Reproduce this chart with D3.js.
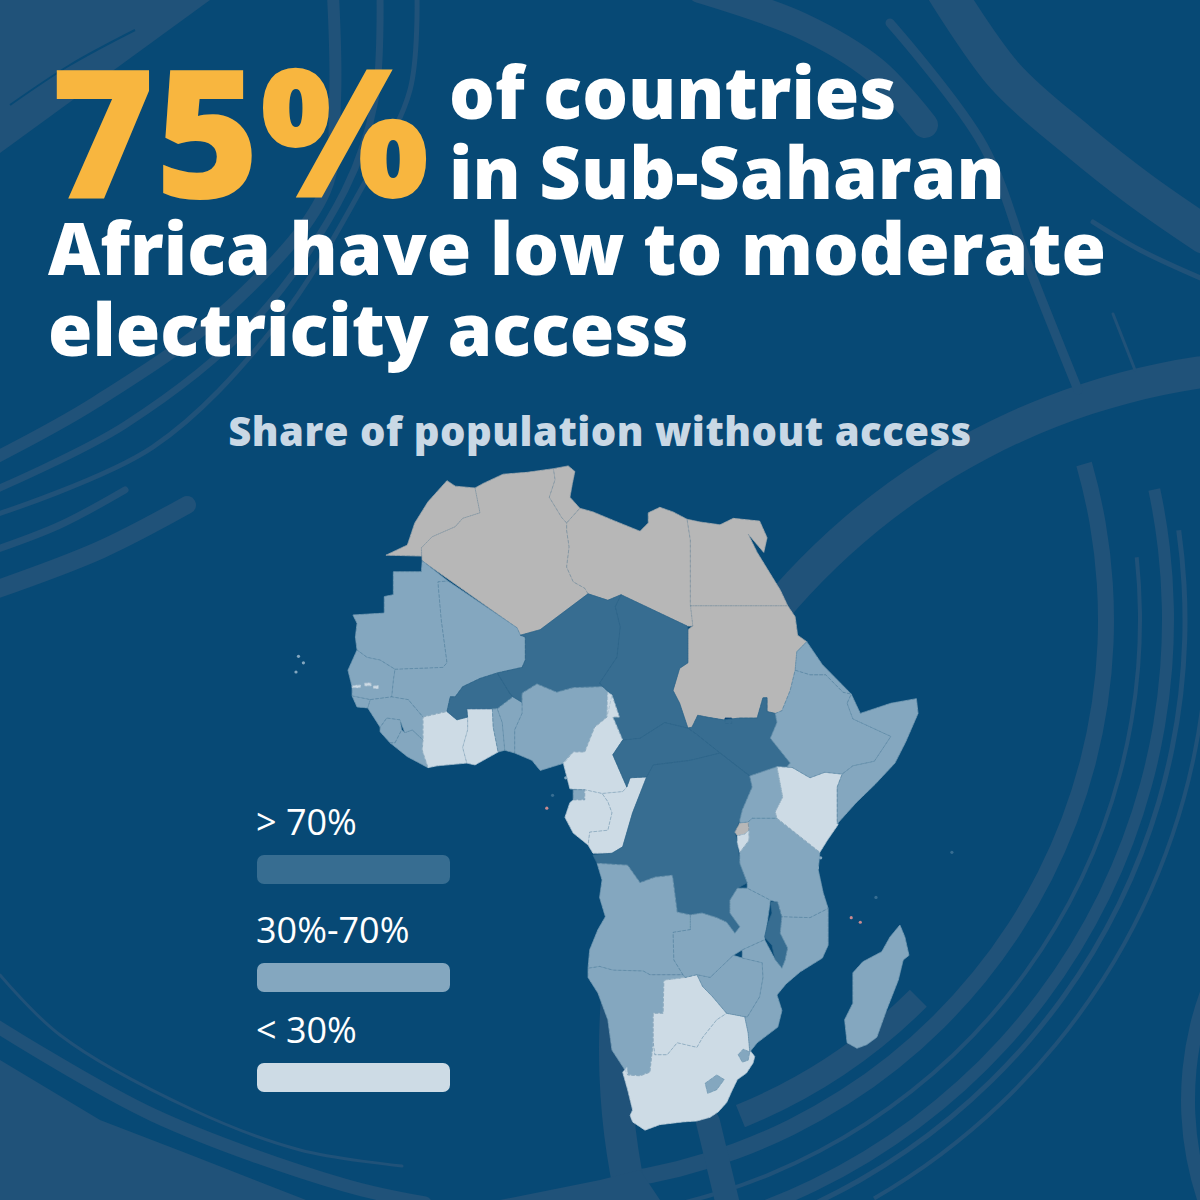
<!DOCTYPE html>
<html><head><meta charset="utf-8">
<script src="https://cdn.jsdelivr.net/npm/d3@7/dist/d3.min.js"></script>
<style>html,body{margin:0;padding:0;background:#074975}svg{display:block}text{font-family:"Open Sans",sans-serif}</style>
</head><body><svg id="c" width="1200" height="1200"></svg>
<script>
// ---------- text ----------
const headlineBig = "75%";
const headlineSide = ["of countries", "in Sub-Saharan"];
const headlineFull = ["Africa have low to moderate", "electricity access"];
const subtitle = "Share of population without access";
// ---------- legend ----------
const legendLabels = ["> 70%", "30%-70%", "< 30%"];
const legendClasses = ["high", "mid", "low"];
// ---------- colour classes ----------
const classNames = ["high", "mid", "low", "none", "gap"];
const classColors = ["#376d91", "#84a7bf", "#cddbe5", "#b7b7b7", "#0a4372"];
// ---------- countries [lon,lat] ----------
const Morocco=[[-13.1,27.7],[-10.5,28.8],[-9.6,31.2],[-8,33.5],[-5.7,35.8],[-4.7,35.2],[-2.3,35],[-1.7,32.3],[-3.8,31.7],[-4.7,30.8],[-7.5,29.7],[-8.8,28.5],[-8.8,27.6]];
const Algeria=[[-2.3,35],[-1.3,35.5],[1.1,36.5],[4,36.7],[7.2,37.1],[7.4,35.9],[6.7,34],[8.2,31.8],[8.8,31.2],[8.8,30.4],[9.1,28.6],[8.8,26.4],[9.6,24.8],[11,24.1],[11.4,23.5],[5.6,19.6],[3.2,19],[2.8,19.8],[-8.7,27.1],[-8.8,28.5],[-7.5,29.7],[-4.7,30.8],[-3.8,31.7],[-1.7,32.3]];
const Tunisia=[[7.2,37.1],[9,37.4],[9.8,36.8],[9.5,35.5],[9.2,34],[10.4,32.8],[8.8,31.2],[8.2,31.8],[6.7,34],[7.4,35.9]];
const Libya=[[10.4,32.8],[12,32.4],[14.4,31.5],[17.7,30.3],[18.7,31.2],[18.7,32.3],[20.1,32.9],[21.7,32.4],[23.4,31.6],[23.8,29.3],[23.8,22.5],[24.1,20],[23.4,20],[15.4,23.4],[13.8,22.8],[11.4,23.5],[11,24.1],[9.6,24.8],[8.8,26.4],[9.1,28.6],[8.8,30.4],[8.8,31.2]];
const Egypt=[[23.4,31.6],[25,31.3],[27.4,31],[29,31.7],[32.2,31.4],[33.1,29.6],[32.7,28],[30.8,30],[31.9,28],[34.7,23.9],[35.6,22.2],[23.8,22.2],[23.8,22.5],[23.8,29.3]];
const Sudan=[[23.8,22.2],[35.6,22.2],[36.5,21],[36.8,19],[37.9,18.3],[36.7,17.2],[36.5,15.2],[35.9,13],[34.9,10.8],[34.1,10.5],[33.1,10.7],[33.1,12.2],[32.6,12.2],[31.9,10],[29.8,10],[27.8,9.8],[25.8,10.1],[24.7,10.3],[24,9],[23.5,8.9],[22.5,11.6],[21.7,13],[22.5,15.4],[23.5,16],[23.5,19.6],[24.1,20]];
const SouthSudan=[[23.5,8.9],[24,9],[24.7,10.3],[25.8,10.1],[27.8,9.8],[29.8,10],[31.9,10],[32.6,12.2],[33.1,12.2],[33.1,10.7],[34.1,10.5],[34.3,9.5],[33.5,7.8],[35.9,5.1],[35.5,4.7],[34.3,4.7],[31,3.7],[27.4,6.2],[24.6,8.2]];
const Abyei=[[28,10],[28.8,10],[28.8,9.4],[28,9.4]];
const Mauritania=[[-8.7,27.1],[-5.6,24.9],[-6.8,24.8],[-6.4,20.7],[-5.7,16],[-6.2,15.5],[-12,15.3],[-13.8,16.3],[-15.4,16.6],[-16.6,17.4],[-16.8,18.8],[-16.6,20.3],[-17.1,21.2],[-13.3,21.4],[-13.3,23.2],[-12.2,23.4],[-12.2,25.9],[-8.8,25.9]];
const Mali=[[-5.6,24.9],[2.8,19.8],[3.2,19],[3.8,18.8],[3.8,16.3],[3.4,15.5],[0.4,14.9],[-1.7,14.3],[-3.8,13.4],[-4.7,12.3],[-5.3,12.3],[-5.7,10.7],[-8.6,10.1],[-10.4,12],[-12.4,12.3],[-12.2,14.1],[-12,15.3],[-6.2,15.5],[-5.7,16],[-6.4,20.7],[-6.8,24.8]];
const Senegal=[[-17.7,15.2],[-17.2,13.4],[-17.2,12.4],[-15,12],[-12.4,12.3],[-12.2,14.1],[-12,15.3],[-13.8,16.3],[-15.4,16.6],[-16.6,17.4]];
const GuineaBissau=[[-17.2,12.4],[-15,12],[-15.3,11.1],[-16.6,11.2]];
const Guinea=[[-15,12],[-12.4,12.3],[-10.4,12],[-8.6,10.1],[-8.6,7.6],[-9.9,8.7],[-10.8,8.4],[-11.4,9.8],[-13,10],[-13.8,9],[-15.3,11.1]];
const SierraLeone=[[-13,10],[-11.4,9.8],[-11.2,8.7],[-12,7.3],[-12.6,7.3],[-13.8,8.5],[-13.8,9]];
const Liberia=[[-12,7.3],[-11.2,8.7],[-10.8,8.4],[-9.9,8.7],[-8.6,7.6],[-8.7,6.5],[-8,4.6],[-10.5,5.8],[-12.6,7.3]];
const CoteDIvoire=[[-8.6,10.1],[-5.7,10.7],[-4.5,9.8],[-3.2,10.1],[-3.2,8.7],[-3.8,6.8],[-3.3,5.1],[-6.9,4.8],[-8,4.6],[-8.7,6.5],[-8.6,7.6]];
const Ghana=[[-3.3,11],[-0.2,11],[-0.1,9],[0.5,6.3],[-2.3,4.9],[-3.3,5.1],[-3.8,6.8],[-3.2,8.7],[-3.2,10.1]];
const BurkinaFaso=[[-5.7,10.7],[-5.3,12.3],[-4.7,12.3],[-3.8,13.4],[-1.7,14.3],[0.4,14.9],[1.9,12.7],[2.3,12.3],[0.4,11],[-0.2,11],[-3.3,11],[-3.2,10.1],[-4.5,9.8]];
const Togo=[[-0.2,11],[0.4,11],[1,9.5],[1.3,6.5],[0.5,6.3],[-0.1,9]];
const Benin=[[0.4,11],[2.3,12.3],[3.4,11.7],[3.4,10.5],[2.5,8.7],[2.5,6.2],[1.3,6.5],[1,9.5]];
const Niger=[[11.4,23.5],[13.8,22.8],[15.4,23.4],[14.7,22.1],[15.3,19.9],[14.9,16.6],[12.8,13.8],[13.2,13.4],[9.6,13.3],[7.6,12.8],[5.2,13.7],[3.4,12.7],[3.4,11.7],[2.3,12.3],[1.9,12.7],[0.4,14.9],[3.4,15.5],[3.8,16.3],[3.8,18.8],[3.2,19],[5.6,19.6]];
const Nigeria=[[3.4,12.7],[3.4,10.5],[2.5,8.7],[2.5,6.2],[4.6,5.4],[5.6,4.3],[8.5,5.1],[9.6,6.3],[11,6.3],[12.2,9],[13.7,10.1],[14.3,12.5],[13.2,13.4],[9.6,13.3],[7.6,12.8],[5.2,13.7]];
const Chad=[[15.4,23.4],[23.4,20],[23.5,19.6],[23.5,16],[22.5,15.4],[21.7,13],[22.5,11.6],[23.5,8.9],[20.7,9.5],[17.7,7.8],[15.6,7.6],[14.4,10.1],[15.2,10.1],[14.3,12.5],[13.2,13.4],[12.8,13.8],[14.9,16.6],[15.3,19.9],[14.7,22.1]];
const Cameroon=[[13.8,12.8],[14.3,12.5],[15.2,10.1],[14.4,10.1],[15.6,7.6],[14.4,6],[16.1,2.5],[15.6,2],[13.1,1.8],[11,2.2],[9.2,2.3],[8.4,5.1],[9.6,6.3],[11,6.3],[12.2,9],[13.7,10.1]];
const EqGuinea=[[9.6,2.2],[11,2.2],[11,1.1],[9.6,1.1]];
const Gabon=[[9.6,1.1],[11,1.1],[11,2.2],[13.1,1.8],[13.8,0.9],[14.3,-0.3],[13.8,-2.2],[11.6,-2.4],[11.4,-3.8],[9.6,-2.5],[8.6,-0.8],[9.2,0.8]];
const Congo=[[13.1,1.8],[15.6,2],[16.1,2.5],[16.5,3.5],[18.5,3.6],[16.8,-0.3],[15.6,-4],[14.3,-4.7],[12,-4.7],[11.4,-3.8],[11.6,-2.4],[13.8,-2.2],[14.3,-0.3],[13.8,0.9]];
const CAR=[[14.4,6],[15.6,7.6],[17.7,7.8],[20.7,9.5],[23.5,8.9],[24.6,8.2],[27.4,6.2],[23.8,5.4],[19.3,4.9],[18.5,3.6],[16.5,3.5],[16.1,2.5]];
const DRC=[[18.5,3.6],[19.3,4.9],[23.8,5.4],[27.4,6.2],[31,3.7],[31.3,2.5],[30.1,0],[29.8,-1.1],[29.2,-2.4],[29.5,-3.6],[29.8,-5.8],[30.7,-7.9],[29.5,-8.5],[28.6,-9.8],[28.6,-11.2],[29.8,-12.7],[29.2,-13.4],[28.2,-12.2],[27,-11.7],[25.2,-11.2],[23.8,-11.4],[22.2,-11.1],[21.7,-7.6],[21.6,-7.1],[19.5,-7.3],[17.7,-7.9],[16.2,-6],[12.5,-5.8],[12,-4.9],[14.3,-4.7],[15.6,-4],[16.8,-0.3]];
const Angola=[[12.5,-5.8],[16.2,-6],[17.7,-7.9],[19.5,-7.3],[21.6,-7.1],[21.7,-7.6],[22.2,-11.1],[23.8,-11.4],[23.8,-13],[21.7,-13.3],[21.8,-16.3],[22.9,-17.9],[18.9,-17.9],[18.1,-17.5],[14.4,-17.4],[12.8,-17],[11.4,-17.2],[11.6,-15.2],[12.6,-13],[13.5,-11.6],[12.8,-9.5],[13.1,-7.6]];
const Namibia=[[11.4,-17.2],[12.8,-17],[14.4,-17.4],[18.1,-17.5],[18.9,-17.9],[22.9,-17.9],[23.2,-18.2],[20.6,-18.5],[20.5,-22.1],[19.3,-22.1],[19.3,-25.3],[18.9,-28.5],[17.7,-28.9],[16.2,-28.8],[15.9,-28.3],[14.3,-26.1],[13.8,-22.8],[12.6,-19.9],[11.4,-18.2]];
const Botswana=[[20.6,-18.5],[23.2,-18.2],[24.6,-17.9],[25.3,-19.2],[26.5,-20.3],[28.2,-22.1],[27,-22.8],[25.3,-24.7],[24.6,-25.8],[22.2,-25.3],[21,-26.6],[19.5,-26.6],[19.3,-25.3],[19.3,-22.1],[20.5,-22.1]];
const SouthAfrica=[[19.3,-25.3],[19.5,-26.6],[21,-26.6],[22.2,-25.3],[24.6,-25.8],[25.3,-24.7],[27,-22.8],[28.2,-22.1],[30.4,-22.5],[30.8,-24.2],[31,-26.1],[31.6,-26.8],[31.4,-27.5],[30.6,-28.6],[29.5,-29.3],[28.8,-30.6],[28.2,-31.8],[27.2,-32.8],[26.2,-33.4],[24.6,-33.8],[22.9,-33.9],[20.1,-34.2],[18.3,-34.8],[16.8,-33.9],[16.5,-33.2],[16.8,-32.6],[16.2,-30.4],[15.6,-28.5],[16.1,-28],[16.2,-28.8],[17.7,-28.9],[18.9,-28.5]];
const Lesotho=[[25.6,-29.7],[27,-28.8],[27.9,-29.3],[27,-30.4],[25.9,-30.8]];
const Eswatini=[[29.6,-26.6],[30.2,-26],[31,-26.3],[30.8,-27.2],[30.1,-27.4]];
const Zimbabwe=[[24.6,-17.9],[26.2,-18.2],[29,-15.8],[30.1,-16.1],[32.5,-16.6],[32.6,-18.2],[32.2,-20.3],[30.7,-22.5],[28.2,-22.1],[26.5,-20.3],[25.3,-19.2]];
const Zambia=[[23.8,-13],[23.8,-11.4],[25.2,-11.2],[27,-11.7],[28.2,-12.2],[29.2,-13.4],[29.8,-12.7],[28.6,-11.2],[28.6,-9.8],[29.5,-8.5],[30.7,-8.5],[33.5,-9.8],[33.1,-12.3],[32.8,-14.1],[30.1,-15.2],[29,-15.8],[26.2,-18.2],[24.6,-17.9],[23.2,-18.2],[22.9,-17.9],[21.8,-16.3],[21.7,-13.3]];
const Malawi=[[33.5,-10],[34.4,-10],[34.9,-11.6],[34.7,-13.4],[35.6,-15],[35.3,-16.3],[34.9,-17.2],[34.1,-16.3],[33.7,-14.7],[32.8,-13.8],[33.2,-12.3],[33.7,-11.2]];
const Tanzania=[[31.3,-0.9],[34.3,-0.9],[39.5,-4.6],[39.3,-6.5],[39.9,-9],[40.5,-10.7],[38.3,-11.7],[34.9,-11.6],[34.4,-10],[33.5,-9.8],[30.7,-8.5],[30.7,-7.9],[29.8,-5.8],[29.8,-4.6],[30.9,-3.3],[30.9,-2.2],[30.8,-1.3]];
const Rwanda=[[29.2,-2.4],[29.8,-1.4],[30.8,-1.3],[30.9,-2.2],[30.4,-2.6],[29.5,-2.8]];
const Burundi=[[29.5,-2.8],[30.4,-2.6],[30.9,-2.2],[30.9,-3.3],[29.8,-4.6],[29.5,-3.6]];
const Uganda=[[31,3.7],[34.3,4.7],[35,1.4],[34.1,-0.2],[34.3,-0.9],[31.3,-0.9],[30.8,-1.3],[29.8,-1.4],[29.8,-1.1],[30.1,0],[31.3,2.5]];
const Kenya=[[34.3,4.7],[36.2,4.6],[38.3,3.5],[40.1,4.1],[42.2,3.9],[41.6,2.5],[41.6,-1.1],[41.7,-1.6],[40.4,-3.3],[39.5,-4.6],[34.3,-0.9],[34.1,-0.2],[35,1.4]];
const Ethiopia=[[36.5,15.2],[38.3,14.7],[40.2,14.7],[42.3,12.8],[43.3,12.6],[42.8,11.6],[43.5,9.9],[48.1,8],[46.1,5.3],[43.5,4.8],[42.2,3.9],[40.1,4.1],[38.3,3.5],[36.2,4.6],[35.5,4.7],[35.9,5.1],[33.5,7.8],[34.3,9.5],[34.1,10.5],[34.9,10.8],[35.9,13]];
const Eritrea=[[37.9,18.3],[39.8,15.8],[43.3,12.6],[42.3,12.8],[40.2,14.7],[38.3,14.7],[36.5,15.2],[36.7,17.2]];
const Somalia=[[42.8,11.6],[43.3,12.6],[44.4,10.5],[48.1,11.6],[51.2,12.1],[51.4,10.5],[49.9,7.4],[48.6,5.1],[46.2,2.8],[43.9,0.8],[41.6,-1.5],[41.6,-1.1],[41.6,2.5],[42.2,3.9],[43.5,4.8],[46.1,5.3],[48.1,8],[43.5,9.9]];
const Mozambique=[[40.5,-10.7],[40.5,-14.7],[39.8,-16.1],[37.1,-17.6],[35.4,-18.9],[34.3,-20.1],[34.9,-21.8],[34.4,-23.6],[31.9,-25.3],[31,-26.3],[30.8,-24.2],[30.4,-22.5],[30.7,-22.5],[32.2,-20.3],[32.6,-18.2],[32.5,-16.6],[30.1,-16.1],[30.1,-15.2],[32.8,-14.1],[34.1,-16.3],[34.9,-17.2],[35.3,-16.3],[35.6,-15],[34.7,-13.4],[34.9,-11.6],[38.3,-11.7]];
const Madagascar=[[49.2,-12.5],[49.8,-13.8],[50.3,-15.8],[49.6,-16.3],[49,-18.5],[47.6,-21.7],[46.4,-24.7],[45.2,-25.5],[44,-25.9],[42.8,-25.3],[42.5,-22.8],[43.5,-21],[43.5,-17.7],[44.7,-16.5],[47,-15.4],[48,-13.8]];
const GambiaA=[[-17.2,13.5],[-16.2,13.6],[-16.2,13.3],[-17.2,13.3]];
const GambiaB=[[-15.7,13.8],[-14.9,13.8],[-14.9,13.5],[-15.7,13.5]];
const GambiaC=[[-14.6,13.5],[-14,13.5],[-14,13.2],[-14.6,13.2]];

const countryRings=[Morocco,Algeria,Tunisia,Libya,Egypt,Sudan,Abyei,SouthSudan,Mauritania,Mali,Senegal,GuineaBissau,Guinea,SierraLeone,Liberia,CoteDIvoire,Ghana,BurkinaFaso,Togo,Benin,Niger,Nigeria,Chad,Cameroon,EqGuinea,Gabon,Congo,CAR,DRC,Angola,Namibia,Botswana,SouthAfrica,Lesotho,Eswatini,Zimbabwe,Zambia,Malawi,Tanzania,Rwanda,Burundi,Uganda,Kenya,Ethiopia,Eritrea,Somalia,Mozambique,Madagascar,GambiaA,GambiaB,GambiaC];
const countryClasses=["none","none","none","none","none","none","gap","high","mid","mid","mid","mid","mid","mid","mid","low","low","high","mid","mid","high","mid","high","low","mid","low","low","high","high","mid","mid","low","low","mid","mid","mid","mid","high","mid","none","low","mid","low","mid","mid","mid","mid","mid","low","low","low"];
// small islands: lon, lat, colour class
const islandLon=[-24.0,-23.1,-23.7,6.4,7.1,8.7,39.6,39.2,43.3,44.4,46.3,55.5];
const islandLat=[15.0,16.0,16.7,0.2,1.6,3.5,-5.2,-6.3,-11.7,-12.2,-9.5,-4.6];
const islandClass=["mid","mid","mid","coral","high","mid","mid","mid","coral","coral","high","high"];

// ---------- page ----------
const svg=d3.select("#c");
svg.append("rect").attr("width",1200).attr("height",1200).attr("fill","#074975");

// brush-stroke backdrop
const brushColor="#205279";
const deg=Math.PI/180;
const brushArcs=[
 [540,620,535,24,135,158],[540,620,566,16,74,172],[540,620,600,4,84,168],[540,620,628,12,78,165],[540,620,645,5,82,160],[540,620,668,4,95,150],
 [1300,1050,685,32,255,358],[1500,1100,312,14,235,300]
];
const arcGen=d3.arc();
svg.append("g").selectAll("path").data(brushArcs).join("path")
 .attr("transform",d=>`translate(${d[0]},${d[1]})`)
 .attr("fill",brushColor)
 .attr("d",d=>arcGen({innerRadius:d[2]-d[3]/2,outerRadius:d[2]+d[3]/2,startAngle:d[4]*deg,endAngle:d[5]*deg}));
const brushFills=[
 [[0,0],[210,0],[0,153]],
 [[0,1060],[100,1120],[191,1155],[306,1200],[0,1200]],
 [[500,1200],[600,1180],[640,1170],[660,1200]]
];
svg.append("g").selectAll("path").data(brushFills).join("path").attr("fill",brushColor)
 .attr("d",d=>d3.line()(d)+"Z");
const brushLines=[
 [[[700,-10],[800,25],[875,70],[925,125]],26],
 [[[945,-10],[1005,76],[1078,141],[1140,190],[1205,235]],38],
 [[[1093,222],[1140,250],[1205,280]],5],
 [[[890,23],[983,145],[1032,275],[1078,390]],9],
 [[[1113,314],[1135,370]],3],
 [[[333,-5],[335,100],[325,191],[230,306],[96,402],[-5,458]],12],
 [[[380,-5],[375,100],[345,190],[255,320],[125,425],[-5,490]],7],
 [[[417,-5],[410,90],[364,184],[276,325],[153,447],[-5,515]],5],
 [[[187,505],[100,550],[-5,590]],18],
 [[[125,490],[60,525],[-5,550]],7],
 [[[0,975],[60,1035],[191,1109],[300,1150],[402,1166]],3],
 [[[-5,1025],[153,1115],[344,1185],[425,1203]],13],
 [[[708,1122],[728,1205]],24]
];
const lineGen=d3.line().curve(d3.curveCatmullRom);
svg.append("g").selectAll("path").data(brushLines).join("path")
 .attr("fill","none").attr("stroke",brushColor).attr("stroke-linecap","round")
 .attr("stroke-width",d=>d[1]).attr("d",d=>lineGen(d[0]));
// thin darker streak inside the corner stroke
svg.append("path").attr("d",lineGen([[10,105],[70,65],[135,30]])).attr("fill","none").attr("stroke","#074975").attr("stroke-width",2);

// headline
const head=svg.append("g").attr("font-weight",800);
head.append("text").text(headlineBig).attr("x",50).attr("y",198).attr("font-size",179).attr("fill","#f8b63f");
head.selectAll(".s").data(headlineSide).join("text").attr("class","s").text(d=>d)
 .attr("x",449).attr("y",(d,i)=>[119,199][i]).attr("font-size",72).attr("fill","#fff");
head.selectAll(".f").data(headlineFull).join("text").attr("class","f").text(d=>d)
 .attr("x",48).attr("y",(d,i)=>[275,356][i]).attr("font-size",72).attr("fill","#fff");
svg.append("text").text(subtitle).attr("x",600).attr("y",446).attr("text-anchor","middle")
 .attr("font-size",40).attr("font-weight",800).attr("letter-spacing",.5).attr("fill","#c9d8e5");

// map
const xLon=d3.scaleLinear().domain([0,10]).range([494,576.5]);
const yLat=d3.scaleLinear().domain([0,10]).range([810,718]);
const proj=d3.geoTransform({point(lon,lat){this.stream.point(xLon(lon),yLat(lat));}});
const geo=d3.geoPath(proj);
const color=d3.scaleOrdinal().domain(classNames).range(classColors);
const features=countryRings.map((r,i)=>({type:"Feature",properties:{cls:countryClasses[i]},geometry:{type:"Polygon",coordinates:[[...r,r[0]]]}}));
const map=svg.append("g");
map.selectAll(".c").data(features).join("path").attr("class","c").attr("d",geo)
 .attr("fill",d=>color(d.properties.cls)).attr("stroke",d=>color(d.properties.cls)).attr("stroke-width",.7).attr("stroke-linejoin","round");
map.selectAll(".b").data(features).join("path").attr("class","b").attr("d",geo)
 .attr("fill","none").attr("stroke","#22557c").attr("stroke-opacity",.18).attr("stroke-width",.9).attr("stroke-dasharray","3.5 1.5");
const islandColor=c=>c==="coral"?"#c98a8f":color(c);
map.selectAll(".i").data(islandLon).join("circle").attr("class","i")
 .attr("cx",d=>xLon(d)).attr("cy",(d,i)=>yLat(islandLat[i])).attr("r",1.6).attr("fill",(d,i)=>islandColor(islandClass[i]));

// legend
const leg=svg.append("g");
leg.selectAll("rect").data(legendClasses).join("rect")
 .attr("x",257).attr("width",193).attr("height",29).attr("rx",7)
 .attr("y",(d,i)=>[855,963,1063][i]).attr("fill",d=>color(d));
leg.selectAll("text").data(legendLabels).join("text").text(d=>d)
 .attr("x",256).attr("y",(d,i)=>[835,943,1043][i]).attr("font-size",36).attr("fill","#fff");
</script></body></html>
